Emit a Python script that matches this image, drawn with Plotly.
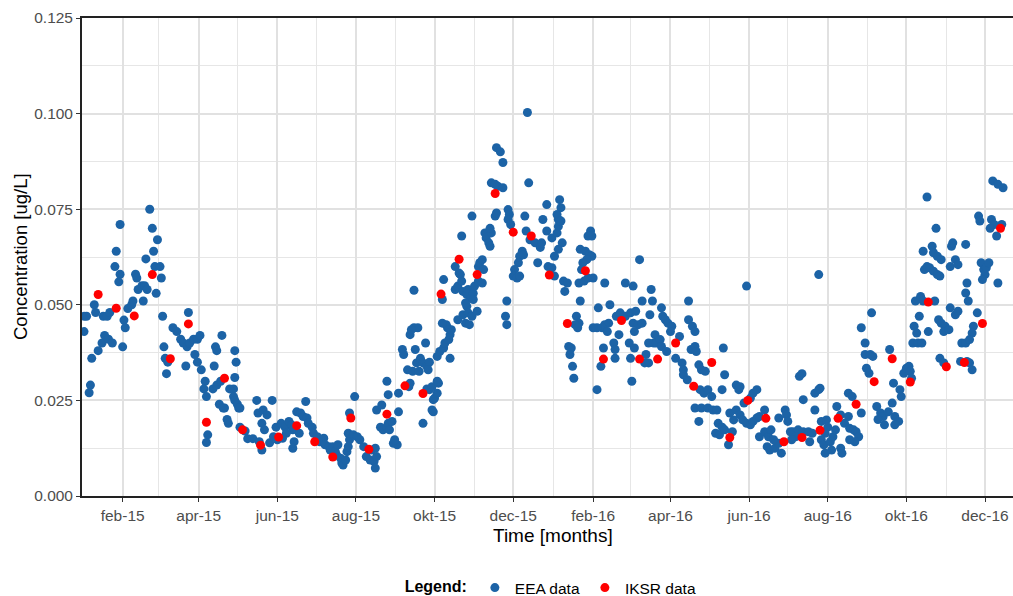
import pandas as pd
import plotly.graph_objects as go

# ---------------- data (day offset from 2015-01-01, concentration in ug/L) ----------------
base_date = pd.Timestamp("2015-01-01")

eea_2015_jan_apr = [
    (1, .047), (3, .047), (1, .043), (6, .029), (5, .027), (7, .036), (9, .050), (10, .048),
    (12, .038), (15, .040), (17, .042), (20, .041), (23, .040), (16, .047), (19, .047), (21, .048),
    (26, .064), (25, .060), (29, .058), (28, .056), (29, .071), (32, .046), (33, .044), (31, .039),
    (35, .049), (38, .050), (39, .051), (41, .058), (42, .057), (43, .054), (46, .055), (48, .055),
    (50, .054), (47, .051), (49, .062), (52, .075), (54, .070), (58, .067), (55, .064), (56, .060),
    (60, .060), (61, .057), (57, .053), (62, .047), (63, .039), (64, .036), (66, .035), (65, .032),
    (70, .044), (73, .043), (76, .041), (78, .040), (81, .039), (83, .040), (86, .041), (89, .041),
    (91, .042), (82, .048), (80, .034), (87, .037), (89, .035), (92, .033), (95, .030), (94, .028),
    (96, .026), (97, .016), (96, .014), (101, .028), (104, .029), (107, .030), (103, .039), (104, .038),
    (108, .042), (102, .034), (106, .024), (110, .023), (112, .020), (113, .019), (117, .028), (120, .024),
    (118, .038), (119, .035), (118, .031),
]

eea_2015_apr_sep = [
    (109, .023), (114, .028), (117, .026), (118, .025), (121, .023), (122, .023), (122, .018), (126, .017),
    (128, .015), (132, .015), (135, .025), (136, .0217), (140, .0225), (143, .0212), (139, .019), (147, .025),
    (141, .0173), (137, .0142), (139, .012), (145, .0139), (148, .0155), (150, .018), (154, .019), (157, .018),
    (160, .0195), (162, .0186), (163, .0173), (158, .0164), (151, .0147), (155, .0151), (164, .0142), (163, .0125),
    (166, .022), (169, .0217), (171, .0208), (174, .0204), (175, .019), (178, .018), (173, .0247), (168, .0164),
    (179, .0164), (182, .0155), (184, .0142), (187, .0151), (188, .0134), (191, .0129), (192, .012), (194, .0129),
    (196, .0116), (197, .0107), (198, .0134), (200, .0099), (201, .0086), (202, .0081), (204, .0094), (205, .0116),
    (206, .0129), (207, .0147), (206, .0164), (210, .016), (213, .0155), (215, .0147), (218, .0129), (220, .0103),
    (223, .0094), (226, .009), (227, .0073), (224, .012), (227, .0125), (228, .0103), (207, .0217), (211, .026),
    (228, .0225), (231, .018), (233, .0173), (236, .018), (237, .019), (238, .0173), (232, .0238), (236, .030),
    (237, .0265), (240, .0195), (241, .0138), (244, .0134), (242, .0147), (245, .0269), (245, .022), (253, .0286),
    (254, .0295), (264, .019), (272, .022), (273, .0256), (275, .0269), (276, .0295), (269, .0278), (267, .028),
]

eea_2015_sep_dec = [
    (248, .0383), (249, .037), (254, .0422), (257, .044), (260, .044), (255, .0435), (258, .0383), (259, .0348),
    (262, .036), (264, .0348), (267, .0339), (269, .035), (268, .033), (266, .040), (252, .033), (256, .0326),
    (261, .0326), (271, .0286), (275, .030), (272, .0252), (271, .0225), (275, .0365), (277, .0378), (280, .0387),
    (281, .040), (284, .0409), (285, .0422), (286, .0435), (283, .044), (282, .0448), (279, .0452), (285, .036),
    (280, .0566), (279, .0514), (257, .0538), (289, .054), (291, .0549), (294, .0562), (293, .0579), (295, .0535),
    (298, .0527), (299, .054), (301, .0518), (303, .053), (304, .0549), (307, .0562), (310, .0557), (289, .060),
    (292, .0583), (294, .068), (302, .0732), (291, .0461), (295, .0474), (298, .0496), (297, .0505), (299, .0479),
    (302, .047), (303, .0514), (306, .0483), (297, .0452), (300, .0448), (307, .060), (308, .061), (311, .0592),
    (310, .0618), (312, .0688), (313, .0675), (315, .0662), (316, .0653), (317, .0688), (316, .070), (320, .0732),
    (321, .074), (317, .0819), (320, .0815), (322, .081), (326, .0806), (321, .0911), (324, .090), (326, .0872),
    (330, .0749), (331, .0736), (330, .0723), (332, .071), (345, .1003), (346, .0819), (343, .0732), (344, .0693),
    (347, .067), (351, .0662), (355, .065), (356, .0662), (360, .0693), (364, .0675), (368, .0688), (369, .0705),
    (369, .0723), (357, .0723), (360, .0762), (341, .064), (339, .0627), (338, .061), (335, .0592), (334, .0575),
    (337, .057), (339, .0575), (342, .0631), (353, .061), (361, .060), (364, .0597), (366, .0575), (329, .051),
    (328, .047), (329, .0448),
]

eea_2016_jan_may = [
    (370, .0775), (371, .0754), (368, .0736), (371, .0719), (372, .0662), (369, .0645), (366, .0627), (373, .0562),
    (376, .0557), (374, .0535), (386, .051), (383, .047), (385, .0452), (382, .0448), (384, .044), (377, .0391),
    (379, .0387), (378, .037), (380, .0339), (381, .0308), (394, .0693), (395, .068), (392, .068), (386, .0645),
    (390, .064), (393, .0631), (395, .0627), (391, .0618), (388, .061), (387, .0592), (385, .0557), (389, .0562),
    (392, .057), (396, .057), (405, .0557), (432, .0618), (421, .0557), (427, .0549), (441, .054), (434, .051),
    (442, .051), (470, .051), (400, .0492), (409, .050), (408, .0452), (405, .0448), (403, .044), (399, .044),
    (396, .044), (414, .047), (417, .0479), (407, .043), (416, .0422), (412, .040), (413, .0383), (413, .036),
    (404, .0387), (402, .0339), (399, .0278), (425, .036), (426, .030), (424, .040), (428, .0387), (421, .047),
    (425, .0479), (429, .0483), (427, .0452), (431, .0448), (428, .043), (434, .0452), (440, .0474), (444, .0422),
    (443, .040), (439, .040), (437, .037), (439, .0348), (436, .0348), (445, .040), (448, .0409), (449, .0391),
    (449, .0492), (450, .047), (452, .0461), (454, .0452), (457, .0444), (456, .043), (453, .0378), (460, .036),
    (463, .0417), (465, .0348), (466, .033), (466, .0317), (469, .0304), (470, .0461), (473, .0444), (475, .043),
    (472, .0383), (475, .0391), (476, .0378), (478, .0343), (480, .033), (483, .0326), (479, .0278), (482, .0269),
    (485, .0278), (488, .026), (475, .023), (480, .023), (485, .023), (489, .0225), (478, .0195), (491, .0164),
]

eea_2016_may_sep = [
    (497, .0387), (498, .0317), (496, .0278), (492, .0225), (493, .019), (496, .018), (494, .016), (498, .0173),
    (501, .0134), (504, .0168), (505, .0199), (502, .0217), (507, .029), (509, .0278), (510, .0286), (515, .0549),
    (513, .0243), (518, .0256), (520, .0269), (523, .0278), (507, .0225), (510, .0212), (512, .0199), (515, .019),
    (518, .0186), (520, .0195), (523, .0204), (525, .0208), (529, .0225), (525, .0155), (529, .0168), (532, .0155),
    (531, .0129), (533, .012), (537, .0125), (540, .0138), (536, .0147), (534, .0173), (542, .0112), (540, .0204),
    (545, .0225), (546, .0212), (547, .0195), (549, .0168), (551, .0168), (555, .0173), (559, .0168), (563, .0168),
    (553, .0155), (550, .0147), (564, .0142), (566, .0164), (556, .0313), (558, .032), (559, .0252), (571, .0579),
    (568, .0269), (571, .0278), (572, .0282), (568, .0225), (573, .0195), (577, .0199), (578, .018), (576, .0164),
    (573, .0147), (575, .0134), (576, .0112), (580, .0142), (582, .0155), (581, .012), (588, .0125), (589, .0112),
    (584, .0173), (585, .0234), (588, .0212), (591, .019), (594, .0208), (595, .0177), (598, .0173), (600, .0168),
    (602, .0155), (599, .0142), (595, .0147), (604, .0217), (594, .0269), (597, .026), (604, .044), (607, .040),
    (607, .037), (611, .037), (613, .0365), (612, .0479), (608, .0334), (610, .0321),
]

eea_2016_sep_dec = [
    (616, .0234), (619, .0217), (621, .0208), (617, .020), (622, .0186), (625, .022), (628, .0243), (630, .0208),
    (633, .0195), (630, .0186), (626, .0383), (629, .0295), (634, .0278), (635, .026), (637, .0321), (639, .0334),
    (641, .0339), (642, .0326), (643, .0308), (644, .040), (648, .040), (651, .040), (645, .0444), (647, .0426),
    (649, .047), (656, .043), (646, .051), (650, .0522), (652, .051), (661, .051), (653, .0592), (655, .060),
    (657, .0597), (660, .0588), (663, .0579), (665, .0575), (652, .064), (659, .0653), (660, .0636), (663, .0627),
    (666, .0618), (655, .0782), (662, .070), (664, .0461), (666, .0452), (669, .0444), (668, .043), (672, .0435),
    (673, .0492), (677, .0474), (679, .0483), (665, .036), (668, .0348), (674, .0653), (675, .0662), (673, .060),
    (677, .0618), (679, .0605), (685, .0658), (682, .040), (685, .040), (681, .0352), (686, .0352), (688, .0348),
    (690, .033), (686, .0557), (685, .0531), (687, .051), (694, .0479), (691, .0444), (690, .0426), (688, .0409),
    (697, .061), (699, .0592), (700, .0579), (698, .0566), (701, .0597), (703, .061), (710, .0557), (695, .0732),
    (696, .0719), (705, .0723), (707, .071), (704, .070), (709, .068), (713, .071), (706, .0824), (710, .0815),
    (714, .0806),
]

iksr_day = [12, 26, 40, 54, 68, 82, 96, 110, 124, 138, 152, 166, 180, 194, 208, 222, 236, 250,
            264, 278, 292, 306, 320, 334, 348, 362, 376, 390, 404, 418, 432, 446, 460, 474, 488,
            502, 516, 530, 544, 558, 572, 586, 600, 614, 628, 642, 656, 670, 684, 698, 712]
iksr_conc = [.0527, .0491, .0471, .0579, .0359, .0450, .0193, .0308, .0173, .0133, .0154, .0184,
             .0142, .0102, .0204, .0122, .0214, .0288, .0268, .0528, .0619, .0579, .0791, .0690,
             .0680, .0578, .0451, .0589, .0358, .0459, .0358, .0358, .0400, .0287, .0349, .0153,
             .0250, .0203, .0142, .0153, .0172, .0203, .0240, .0299, .0359, .0298, .0507, .0338,
             .0349, .0451, .0700]

tick_dates = ["2015-02-01", "2015-04-01", "2015-06-01", "2015-08-01", "2015-10-01", "2015-12-01",
              "2016-02-01", "2016-04-01", "2016-06-01", "2016-08-01", "2016-10-01", "2016-12-01"]
tick_labels = ["feb-15", "apr-15", "jun-15", "aug-15", "okt-15", "dec-15",
               "feb-16", "apr-16", "jun-16", "aug-16", "okt-16", "dec-16"]
y_ticks = [0.0, 0.025, 0.05, 0.075, 0.1, 0.125]

# ---------------- build ----------------
eea_points = (eea_2015_jan_apr + eea_2015_apr_sep + eea_2015_sep_dec
              + eea_2016_jan_may + eea_2016_may_sep + eea_2016_sep_dec)
eea_x = [base_date + pd.Timedelta(days=d) for d, _ in eea_points]
eea_y = [v for _, v in eea_points]
iksr_x = [base_date + pd.Timedelta(days=d) for d in iksr_day]

FONT = "Liberation Sans, Arial, Helvetica, sans-serif"
BLUE = "#1c63a6"
RED = "#ff0000"

fig = go.Figure()
fig.add_trace(go.Scatter(x=eea_x, y=eea_y, mode="markers", name="EEA data",
                         marker=dict(color=BLUE, size=9, line=dict(width=0))))
fig.add_trace(go.Scatter(x=iksr_x, y=iksr_conc, mode="markers", name="IKSR data",
                         marker=dict(color=RED, size=9, line=dict(width=0))))

grid_major = "#e1e1e1"
grid_minor = "#e6e6e6"

fig.update_xaxes(
    type="date",
    range=["2014-12-31 11:00", "2016-12-22 17:00"],
    tickmode="array", tickvals=tick_dates, ticktext=tick_labels,
    ticks="outside", ticklen=4, tickwidth=1.3, tickcolor="#333333",
    tickfont=dict(family=FONT, size=15.5, color="#4d4d4d"),
    showgrid=True, gridcolor=grid_major, gridwidth=1.6,
    minor=dict(dtick="M1", tick0="2015-01-01", showgrid=True, gridcolor=grid_minor, gridwidth=1.3, ticks=""),
    showline=True, linecolor="#222222", linewidth=1.8, mirror=True,
    zeroline=False,
)
fig.update_yaxes(
    range=[0, 0.125],
    tickmode="array", tickvals=y_ticks, tickformat=".3f",
    ticks="outside", ticklen=4, tickwidth=1.3, tickcolor="#333333",
    tickfont=dict(family=FONT, size=15.5, color="#4d4d4d"),
    showgrid=True, gridcolor=grid_major, gridwidth=1.6,
    minor=dict(dtick=0.0125, tick0=0, showgrid=True, gridcolor=grid_minor, gridwidth=1.3, ticks=""),
    showline=True, linecolor="#222222", linewidth=1.8, mirror=False,
    zeroline=False,
)

fig.update_layout(
    width=1013, height=596,
    margin=dict(l=82, r=0, t=18, b=100, autoexpand=False),
    paper_bgcolor="white", plot_bgcolor="white",
    font=dict(family=FONT, size=15, color="#000000"),
    showlegend=True,
    legend=dict(
        orientation="h", x=0.505, xanchor="center", y=-0.1925, yanchor="middle",
        title=dict(text="<b>Legend:</b>", side="left", font=dict(family=FONT, size=16, color="#000000")),
        font=dict(family=FONT, size=15.5, color="#000000"),
        bgcolor="rgba(0,0,0,0)",
    ),
    annotations=[
        dict(text="Time [months]", xref="paper", yref="paper", x=0.506, y=0,
             xanchor="center", yanchor="middle", yshift=-39, showarrow=False,
             font=dict(family=FONT, size=19, color="#000000")),
        dict(text="Concentration [ug/L]", xref="paper", yref="paper", x=0, y=0.5,
             xanchor="center", yanchor="middle", xshift=-62, textangle=-90, showarrow=False,
             font=dict(family=FONT, size=18.5, color="#000000")),
    ],
)

fig.write_html("out.html")
